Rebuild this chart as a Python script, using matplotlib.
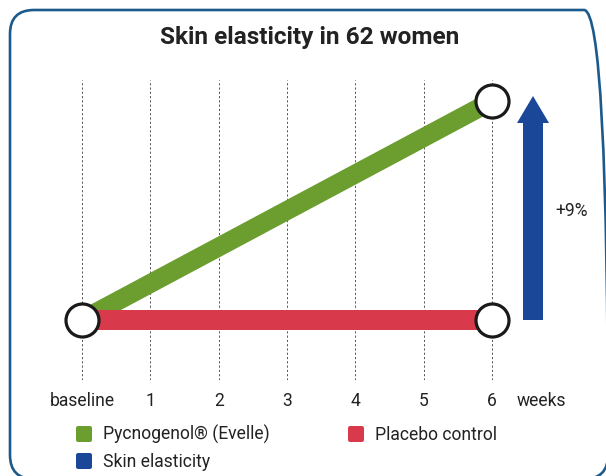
import matplotlib
matplotlib.use("Agg")
import matplotlib.pyplot as plt
from matplotlib.lines import Line2D
from matplotlib.markers import MarkerStyle
from matplotlib.patches import FancyBboxPatch
from matplotlib.transforms import IdentityTransform

# ---------------- data ----------------
weeks = [0, 1, 2, 3, 4, 5, 6]
week_labels = ["baseline", "1", "2", "3", "4", "5", "6"]
pycnogenol = [0, 9]          # % change, baseline -> week 6
placebo = [0, 0]
endpoint_weeks = [0, 6]
gain = 9
gain_label = "+9%"
title = "Skin elasticity in 62 women"
axis_unit = "weeks"
legend_labels = ["Pycnogenol® (Evelle)", "Skin elasticity", "Placebo control"]

GREEN = "#6b9e2f"
RED = "#d83a4b"
BLUE = "#1b4799"
FRAME = "#1d5a8c"
TEXT = "#222222"

W, H, DPI = 606, 476, 100
plt.rcParams["font.family"] = ["Roboto", "DejaVu Sans"]
fig = plt.figure(figsize=(W / DPI, H / DPI), dpi=DPI)
fig.patch.set_facecolor("white")

renderer = fig.canvas.get_renderer()


def text_width(s, fs, weight="normal"):
    t = fig.text(0, 0, s, fontsize=fs, fontweight=weight)
    w = t.get_window_extent(renderer).width
    t.remove()
    return w


title_fs = 10 * 300 / text_width(title, 10, "bold")
body_fs = 1.1 * 10 * 152 / text_width(legend_labels[0], 10)
body_px = body_fs * DPI / 72
col1_w = text_width(legend_labels[0], body_fs)

# rounded frame (pixel coordinates)
frame = FancyBboxPatch((10, -3), 598, 469,
                       boxstyle="round,pad=0,rounding_size=24",
                       transform=IdentityTransform(), facecolor="none",
                       edgecolor=FRAME, linewidth=1.9, zorder=0)
fig.patches.append(frame)

fig.text(310 / W, 1 - 44 / H, title, ha="center", va="baseline",
         fontsize=title_fs, fontweight="bold", color=TEXT)

# axes: x=0 at 82px, x=6 at 492px ; y=0 at 320px, y=9 at 101px (from top)
px_x = 410 / 6
px_y = 219 / 9
ax_left_px, ax_bottom_px, ax_w_px, ax_h_px = 41, 96, 8.0 * px_x, 300
ax = fig.add_axes([ax_left_px / W, ax_bottom_px / H, ax_w_px / W, ax_h_px / H])
ax.set_xlim(-41 / px_x, -41 / px_x + 8.0)
ax.set_ylim(-60 / px_y, 240 / px_y)
ax.patch.set_alpha(0)
for s in ax.spines.values():
    s.set_visible(False)
ax.set_yticks([])

ax.set_xticks(weeks, week_labels)
ax.set_xticks([6 + 49 / px_x], [axis_unit], minor=True)
ax.tick_params(axis="x", which="both", length=0, pad=9,
               labelsize=body_fs, labelcolor=TEXT)
ax.grid(True, axis="x", which="major", color="#555555",
        linestyle=(0, (2.2, 2.2)), linewidth=0.7)

# lines
ax.plot(endpoint_weeks, pycnogenol, color=GREEN, lw=19 * 72 / DPI,
        solid_capstyle="butt", zorder=2)
ax.plot(endpoint_weeks, placebo, color=RED, lw=20 * 72 / DPI,
        solid_capstyle="butt", zorder=3)

# end circles
ends_x = [endpoint_weeks[0], endpoint_weeks[1], endpoint_weeks[1]]
ends_y = [pycnogenol[0], pycnogenol[1], placebo[1]]
ax.plot(ends_x, ends_y, ls="none", marker="o", ms=33 * 72 / DPI,
        mfc="white", mec="#1a1a1a", mew=2.3, zorder=5, clip_on=False)

# gain arrow
arrow_x = 6 + 41 / px_x
tip_extra = 5 / px_y
ax.arrow(arrow_x, 0, 0, gain + tip_extra, width=20 / px_x,
         head_width=32 / px_x, head_length=27 / px_y,
         length_includes_head=True, color=BLUE, lw=0, zorder=4,
         clip_on=False)
ax.text(arrow_x + 39 / px_x, gain / 2, gain_label, ha="center",
        va="center", fontsize=body_fs, color=TEXT, clip_on=False)

# legend
sq = MarkerStyle("s", joinstyle="round")
mk = dict(ls="none", marker=sq, ms=12 * 72 / DPI, mew=4 * 72 / DPI)
handles = [
    Line2D([], [], color=GREEN, **mk),
    Line2D([], [], color=BLUE, **mk),
    Line2D([], [], color=RED, **mk),
]
leg = fig.legend(handles, legend_labels, loc="upper left",
                 bbox_to_anchor=(75 / W, 1 - 425 / H), ncol=2, frameon=False,
                 fontsize=body_fs, borderpad=0, borderaxespad=0,
                 handlelength=17 / body_px, handletextpad=11 / body_px,
                 columnspacing=(347 - 103 - col1_w) / body_px,
                 labelspacing=0.5)
for t in leg.get_texts():
    t.set_color(TEXT)

fig.savefig("out.png", dpi=DPI, facecolor="white")
